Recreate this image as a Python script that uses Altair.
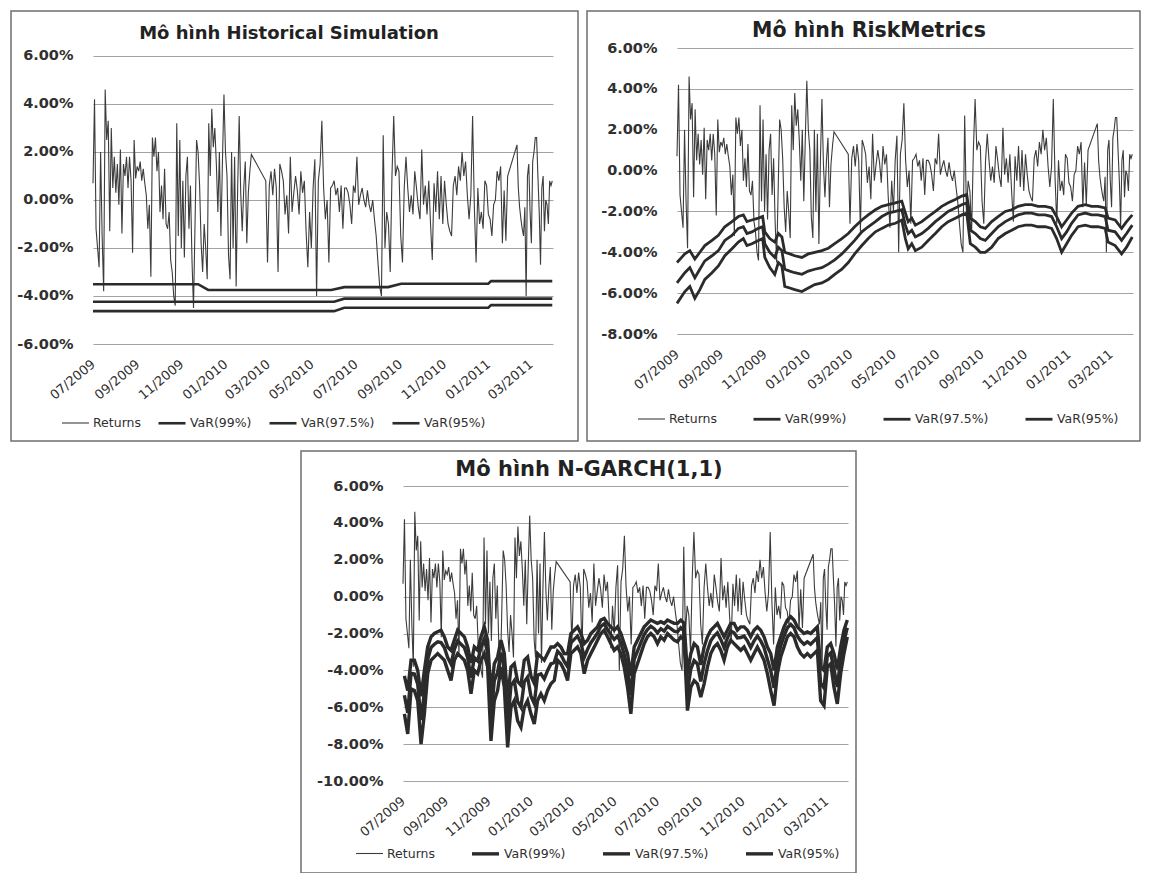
import altair as alt
import pandas as pd

FONT = "DejaVu Sans"
INK = "#2b2b2b"
TEXT = "#303030"
GRID = "#a3a3a3"
BOX = "#6e6e6e"

START = "2009-07-01"
END = "2011-04-01"
SERIES = ["Returns", "VaR(99%)", "VaR(97.5%)", "VaR(95%)"]
SERIES_COLORS = ["#3c3c3c", INK, INK, INK]
TICK_MONTHS = [(2009, 7), (2009, 9), (2009, 11), (2010, 1), (2010, 3), (2010, 5),
               (2010, 7), (2010, 9), (2010, 11), (2011, 1), (2011, 3)]

# ---- daily returns (%), in three trading stretches ----
RET_A_SPAN = ("2009-07-01", "2010-02-06")
RET_A = [0.7, 4.2, -1.2, -2.0, -2.8, 2.0, -1.5, -3.8, 4.6, 2.5,
         3.3, -1.3, 3.0, 0.5, 1.8, 0.3, 1.5, -0.2, 2.1, -1.4,
         1.5, 1.0, 1.8, 0.5, 1.8, 0.8, -2.2, 2.5, 0.9, 1.4,
         1.2, 1.6, 0.8, 1.3, 0.7, 0.2, -1.2, -0.2, -3.2, 2.6,
         1.8, 2.6, 1.2, 2.0, -0.5, 0.6, -0.8, 1.3, -1.0, -1.2,
         -0.5, -2.5, -3.0, -4.0, -4.4, 3.2, -1.5, 2.5, -2.0, 0.8,
         -2.4, 1.0, 1.8, -1.2, 0.6, -2.5, -4.5, -1.0, 2.5, 2.0,
         0.6, -1.8, -3.0, -1.0, -2.0, -3.3, 3.2, 1.0, 3.8, 2.2,
         3.0, 1.5, -0.5, 2.0, -1.5, 1.6, 4.4, 2.0, 1.0, -2.3,
         -3.3, 2.0, -2.0, 1.8, -3.6, 0.5, 3.5, 0.3, -1.3, 0.5,
         1.6, -1.8, 0.3, 1.2, 1.9]
RET_B_SPAN = ("2010-02-26", "2011-01-28")
RET_B = [0.8, -2.6, 0.6, 1.2, 0.2, 1.3, 0.5, -3.0, 1.5, 1.2,
         0.8, -0.6, 0.2, -1.4, 1.8, -0.5, 0.3, 1.0, 0.4, -0.6,
         1.2, 0.3, 0.8, -1.3, -2.8, -0.5, -2.0, 0.5, 1.7, -4.0,
         0.8, 1.5, 3.3, 0.5, -0.8, 0.0, -2.6, 0.5, 0.6, 0.8,
         0.2, 0.5, -0.5, 0.6, -1.2, 0.5, 0.5, 0.3, -0.2, -1.0,
         0.6, 0.3, 1.8, -0.2, 0.2, 0.5, 0.0, -0.3, 0.4, -0.2,
         -0.5, 0.0, -0.8, -1.5, -2.6, -3.6, -4.0, 2.7, -2.0, -0.5,
         -1.0, -3.0, 1.0, 3.5, 1.0, 1.4, 1.2, -1.5, -2.6, 0.5,
         1.8, 0.5, -0.5, 0.2, -0.6, 1.2, 0.5, -0.3, -0.8, 2.1,
         -0.2, 0.6, -0.6, 0.8, -1.0, -2.5, 0.7, -0.5, 1.2, -0.8,
         1.0, -1.0, 0.8, -0.2, -1.0, -1.3, -1.5, 0.6, 1.0, 0.2,
         1.4, 0.8, 2.0, 1.0, 1.6, 0.2, -0.8, 0.2, 3.5, -0.3,
         -2.6, 0.5, -1.0, -0.5, -1.2, 0.8, 0.6, -0.6, -0.8, -1.5,
         -0.2, 0.0, 1.2, 0.8, 1.4, -1.8, 0.4, -1.7, 1.0]
RET_C_SPAN = ("2011-02-10", "2011-03-31")
RET_C = [2.3, 0.5, -0.3, -0.8, -1.2, -1.5, -0.3, -4.0, 1.0, 1.5,
         -0.5, -1.8, 1.6, 2.0, 2.6, 2.6, 1.0, -0.5, -2.7, 0.5,
         1.0, -1.3, 0.0, -0.2, -1.0, 0.8, 0.6, 0.8]

# ---- Historical Simulation VaR (%), break points ----
HS_DATES_99 = ["2009-07-01", "2010-06-01", "2010-06-15", "2011-01-01", "2011-01-05", "2011-03-31"]
HS_99 = [-4.63, -4.63, -4.49, -4.49, -4.38, -4.38]
HS_DATES_975 = ["2009-07-01", "2010-06-01", "2010-06-15", "2011-03-31"]
HS_975 = [-4.24, -4.24, -4.11, -4.11]
HS_DATES_95 = ["2009-07-01", "2009-11-24", "2009-12-08", "2010-05-28", "2010-06-15",
               "2010-08-15", "2010-09-02", "2011-01-01", "2011-01-05", "2011-03-31"]
HS_95 = [-3.51, -3.51, -3.75, -3.75, -3.63, -3.63, -3.49, -3.49, -3.38, -3.38]

# ---- RiskMetrics VaR (%), day offsets from 2009-07-01 ----
RM_DAY = [0, 11, 18, 25, 32, 39, 49, 58, 67, 77,
          86, 93, 98, 105, 114, 120, 123, 130, 137, 142,
          147, 151, 158, 165, 175, 184, 193, 203, 212, 221,
          231, 240, 249, 259, 268, 278, 287, 296, 306, 315,
          320, 324, 329, 334, 343, 352, 362, 371, 380, 390,
          399, 406, 411, 418, 425, 432, 441, 450, 460, 469,
          478, 488, 497, 506, 516, 525, 532, 539, 546, 553,
          562, 572, 581, 590, 600, 604, 614, 623, 630, 638]
RM_99 = [-6.50, -5.92, -5.67, -6.25, -5.83, -5.33, -5.00, -4.67, -4.17, -3.83,
         -3.50, -3.33, -3.67, -3.58, -3.42, -3.33, -4.25, -4.75, -5.08, -4.50,
         -4.67, -5.67, -5.75, -5.83, -5.92, -5.75, -5.58, -5.50, -5.33, -5.08,
         -4.83, -4.50, -4.08, -3.67, -3.33, -3.00, -2.83, -2.67, -2.58, -2.42,
         -3.33, -3.83, -3.58, -3.92, -3.75, -3.42, -3.08, -2.75, -2.50, -2.33,
         -2.17, -2.08, -3.58, -3.75, -4.00, -4.00, -3.75, -3.33, -3.08, -2.92,
         -2.75, -2.67, -2.67, -2.75, -2.75, -2.83, -3.33, -4.00, -3.58, -3.17,
         -2.75, -2.67, -2.75, -2.75, -2.83, -3.50, -3.67, -4.08, -3.75, -3.25]
RM_975 = [-5.50, -5.00, -4.75, -5.25, -4.83, -4.42, -4.17, -3.92, -3.42, -3.17,
          -2.83, -2.75, -3.08, -3.00, -2.83, -2.75, -3.58, -4.00, -4.25, -3.75,
          -3.92, -4.83, -4.92, -5.00, -5.08, -4.92, -4.83, -4.75, -4.58, -4.37,
          -4.08, -3.75, -3.42, -3.00, -2.75, -2.50, -2.25, -2.08, -2.00, -1.92,
          -2.67, -3.08, -2.92, -3.25, -3.08, -2.83, -2.50, -2.25, -2.00, -1.83,
          -1.67, -1.58, -2.92, -3.08, -3.33, -3.42, -3.08, -2.75, -2.50, -2.33,
          -2.17, -2.08, -2.08, -2.17, -2.17, -2.25, -2.75, -3.33, -3.00, -2.58,
          -2.17, -2.08, -2.17, -2.17, -2.25, -2.92, -3.00, -3.42, -3.08, -2.67]
RM_95 = [-4.50, -4.08, -3.92, -4.33, -4.00, -3.67, -3.42, -3.17, -2.75, -2.50,
         -2.25, -2.17, -2.50, -2.42, -2.33, -2.25, -3.00, -3.33, -3.50, -3.08,
         -3.25, -4.00, -4.08, -4.17, -4.25, -4.08, -4.00, -3.92, -3.80, -3.58,
         -3.33, -3.08, -2.75, -2.42, -2.17, -1.92, -1.75, -1.67, -1.58, -1.50,
         -2.08, -2.50, -2.33, -2.67, -2.50, -2.25, -2.00, -1.75, -1.58, -1.42,
         -1.25, -1.17, -2.33, -2.50, -2.75, -2.83, -2.50, -2.25, -2.00, -1.92,
         -1.75, -1.67, -1.67, -1.75, -1.75, -1.83, -2.25, -2.75, -2.42, -2.08,
         -1.75, -1.67, -1.75, -1.75, -1.83, -2.33, -2.42, -2.83, -2.50, -2.17]

# ---- N-GARCH(1,1) VaR (%), evenly spaced through the sample ----
G_SPAN = ("2009-07-03", "2011-03-31")
G_99 = [-6.36, -7.45, -5.00, -5.09, -5.64, -8.00, -6.36, -4.18, -3.45, -3.27,
        -3.09, -3.27, -3.45, -4.00, -4.55, -3.45, -3.09, -3.27, -3.45, -4.00,
        -5.27, -4.00, -4.18, -3.45, -3.09, -3.82, -7.82, -5.64, -5.09, -3.82,
        -4.91, -8.18, -6.00, -5.64, -6.73, -7.09, -6.00, -5.64, -6.36, -6.91,
        -5.64, -5.27, -5.64, -5.09, -4.73, -4.55, -3.45, -3.64, -4.00, -4.55,
        -3.09, -2.91, -2.73, -3.09, -4.18, -3.45, -3.09, -2.73, -2.36, -2.00,
        -1.82, -2.18, -2.55, -2.91, -2.73, -3.09, -3.82, -4.91, -6.36, -4.18,
        -3.64, -3.09, -2.55, -2.18, -2.00, -2.18, -2.55, -2.18, -2.36, -2.00,
        -2.18, -2.36, -2.45, -2.18, -2.36, -6.18, -4.91, -4.55, -4.73, -5.45,
        -4.73, -3.82, -3.09, -2.73, -2.55, -2.91, -3.45, -2.73, -2.36, -2.55,
        -2.73, -2.91, -2.73, -3.09, -3.45, -3.09, -2.73, -3.09, -3.45, -4.18,
        -5.09, -5.91, -4.18, -3.27, -2.73, -2.18, -2.00, -2.18, -2.73, -3.09,
        -3.27, -3.09, -3.27, -3.09, -2.91, -5.64, -5.91, -3.82, -3.64, -4.91,
        -5.82, -4.18, -3.09, -2.18]
G_975 = [-5.35, -6.30, -4.16, -4.20, -4.75, -6.70, -5.20, -3.40, -2.76, -2.58,
         -2.45, -2.49, -2.76, -3.31, -3.66, -2.86, -2.40, -2.58, -2.76, -3.31,
         -4.40, -3.31, -3.49, -2.76, -2.31, -3.03, -6.60, -4.56, -4.11, -3.03,
         -3.93, -6.90, -4.82, -4.56, -5.70, -6.00, -4.62, -4.36, -5.40, -5.80,
         -4.26, -4.19, -4.46, -4.01, -3.65, -3.57, -2.96, -3.15, -3.51, -3.80,
         -2.50, -2.32, -2.14, -2.50, -3.30, -2.86, -2.50, -2.24, -1.97, -1.61,
         -1.47, -1.79, -2.06, -2.32, -2.14, -2.50, -3.13, -3.93, -5.35, -3.40,
         -2.95, -2.50, -2.06, -1.79, -1.61, -1.74, -1.96, -1.74, -1.87, -1.61,
         -1.74, -1.87, -1.91, -1.69, -1.87, -5.20, -3.93, -3.47, -3.65, -4.60,
         -3.65, -2.93, -2.40, -2.14, -1.96, -2.32, -2.76, -2.24, -1.87, -1.96,
         -2.24, -2.22, -2.14, -2.40, -2.76, -2.40, -2.14, -2.40, -2.76, -3.40,
         -4.01, -4.95, -3.40, -2.68, -2.14, -1.69, -1.51, -1.69, -2.14, -2.40,
         -2.58, -2.45, -2.58, -2.40, -2.22, -4.70, -4.95, -3.23, -3.05, -3.93,
         -4.90, -3.40, -2.40, -1.69]
G_95 = [-4.30, -5.10, -3.45, -3.45, -4.00, -5.40, -4.00, -2.73, -2.18, -2.00,
        -1.91, -1.82, -2.18, -2.73, -2.91, -2.36, -1.82, -2.00, -2.18, -2.73,
        -3.60, -2.73, -2.91, -2.18, -1.64, -2.36, -5.30, -3.64, -3.27, -2.36,
        -3.09, -5.60, -3.82, -3.64, -4.60, -4.80, -3.45, -3.27, -4.30, -4.70,
        -3.09, -3.27, -3.45, -3.09, -2.73, -2.73, -2.55, -2.73, -3.09, -3.10,
        -2.00, -1.82, -1.64, -2.00, -2.55, -2.36, -2.00, -1.82, -1.64, -1.27,
        -1.18, -1.45, -1.64, -1.82, -1.64, -2.00, -2.55, -3.09, -4.30, -2.73,
        -2.36, -2.00, -1.64, -1.45, -1.27, -1.36, -1.45, -1.36, -1.45, -1.27,
        -1.36, -1.45, -1.45, -1.27, -1.45, -4.20, -3.09, -2.55, -2.73, -3.70,
        -2.73, -2.18, -1.82, -1.64, -1.45, -1.82, -2.18, -1.82, -1.45, -1.45,
        -1.82, -1.64, -1.64, -1.82, -2.18, -1.82, -1.64, -1.82, -2.18, -2.73,
        -3.09, -4.00, -2.73, -2.18, -1.64, -1.27, -1.09, -1.27, -1.64, -1.82,
        -2.00, -1.91, -2.00, -1.82, -1.64, -3.80, -4.00, -2.73, -2.55, -3.09,
        -3.95, -2.73, -1.82, -1.27]


# ------------------------------------------------------------------ frames
def seg(vals, span):
    return pd.DataFrame({"date": pd.date_range(span[0], span[1], periods=len(vals)), "value": vals})


RET = pd.concat([seg(RET_A, RET_A_SPAN), seg(RET_B, RET_B_SPAN), seg(RET_C, RET_C_SPAN)],
                ignore_index=True)
RET["series"] = "Returns"


def var_frame(parts):
    frames = []
    for name, dates, vals in parts:
        frames.append(pd.DataFrame({"date": pd.to_datetime(dates), "value": vals, "series": name}))
    return pd.concat(frames, ignore_index=True)


HS = var_frame([("VaR(99%)", HS_DATES_99, HS_99),
                ("VaR(97.5%)", HS_DATES_975, HS_975),
                ("VaR(95%)", HS_DATES_95, HS_95)])
rm_dates = pd.Timestamp(START) + pd.to_timedelta(RM_DAY, unit="D")
RM = var_frame([("VaR(99%)", rm_dates, RM_99),
                ("VaR(97.5%)", rm_dates, RM_975),
                ("VaR(95%)", rm_dates, RM_95)])
g_dates = pd.date_range(G_SPAN[0], G_SPAN[1], periods=len(G_99))
GA = var_frame([("VaR(99%)", g_dates, G_99),
                ("VaR(97.5%)", g_dates, G_975),
                ("VaR(95%)", g_dates, G_95)])

ONE = pd.DataFrame({"k": [0]})


def dt(s):
    t = pd.Timestamp(s)
    return alt.DateTime(year=t.year, month=t.month, date=t.day)


def panel(title, tsize, tpos, w, h, ylo, yhi, ytop, box, leg, vdf, legpad, vwidth):
    xenc = alt.X("date:T", title=None,
                 scale=alt.Scale(domain=[dt(START), dt(END)]),
                 axis=alt.Axis(values=[alt.DateTime(year=y, month=m, date=1) for y, m in TICK_MONTHS],
                               format="%m/%Y", labelAngle=-40, labelAlign="right",
                               labelBaseline="middle", labelPadding=18, grid=False,
                               domain=False, ticks=False, tickSize=0, labelFont=FONT,
                               labelFontSize=13, labelColor=TEXT, labelOverlap=False,
                               labelFlush=False))
    yenc = alt.Y("value:Q", title=None,
                 scale=alt.Scale(domain=[ylo, ytop], nice=False, zero=False),
                 axis=alt.Axis(values=list(range(ylo, yhi + 1, 2)),
                               labelExpr="(datum.value < 0 ? '-' : '') + format(abs(datum.value), '.2f') + '%'",
                               grid=True, gridColor=GRID, gridWidth=1, domain=False,
                               ticks=False, tickSize=0, labelPadding=20, labelFont=FONT,
                               labelFontSize=14.5, labelFontWeight="bold", labelColor=TEXT))
    lg = alt.Legend(orient="none", legendX=leg[0], legendY=leg[1], direction="horizontal",
                    title=None, symbolType="stroke", symbolSize=729, labelFont=FONT,
                    labelFontSize=12.5, labelColor=TEXT, columnPadding=legpad, labelOffset=3)
    cenc = alt.Color("series:N", scale=alt.Scale(domain=SERIES, range=SERIES_COLORS), legend=lg)
    wenc = alt.StrokeWidth("series:N",
                           scale=alt.Scale(type="ordinal", domain=SERIES,
                                           range=[1.1, vwidth, vwidth, vwidth]),
                           legend=lg)

    frame = alt.Chart(ONE).mark_rect(fillOpacity=0, stroke=BOX, strokeWidth=1.5).encode(
        x=alt.value(box[0]), x2=alt.value(box[1]), y=alt.value(box[2]), y2=alt.value(box[3]))
    ret = alt.Chart(RET).mark_line().encode(x=xenc, y=yenc, color=cenc, strokeWidth=wenc)
    var = alt.Chart(vdf).mark_line().encode(x=xenc, y=yenc, color=cenc, strokeWidth=wenc)
    ttl = alt.Chart(ONE).mark_text(text=title, font=FONT, fontSize=tsize, fontWeight="bold",
                                   color="#222222", align="center", baseline="middle").encode(
        x=alt.value(tpos[0]), y=alt.value(tpos[1]))
    return alt.layer(frame, ret, var, ttl).properties(width=w, height=h)


p1 = panel("Mô hình Historical Simulation", 18, (196, -14), 460, 296, -6, 6, 6.333,
           (-82, 485, -37, 393), (-32, 360), HS, 12, 2.6)
p2 = panel("Mô hình RiskMetrics", 20.5, (192, -17), 456, 286, -8, 6, 6,
           (-90, 463, -37, 393), (-40, 356), RM, 30, 2.8)
p3 = panel("Mô hình N-GARCH(1,1)", 21, (186, -16), 445, 295, -10, 6, 6,
           (-102, 453, -35, 387), (-48, 352), GA, 30, 3.4)

# empty cell that pushes the third panel to the centre of the row below
gap = alt.Chart(ONE).mark_rect(fillOpacity=0, strokeOpacity=0).encode(
    x=alt.value(0), x2=alt.value(1), y=alt.value(0), y2=alt.value(1)).properties(width=207, height=1)

RES = dict(color="independent", strokeWidth="independent")
top = alt.hconcat(p1, p2, spacing=7).resolve_scale(**RES).resolve_legend(**RES)
bottom = alt.hconcat(gap, p3, spacing=0).resolve_scale(**RES).resolve_legend(**RES)
chart = alt.vconcat(top, bottom, spacing=8).resolve_scale(**RES).resolve_legend(**RES).properties(
    padding={"left": 2, "top": 2, "right": 2, "bottom": 2}, background="white"
).configure_view(stroke=None)

chart.save("out.html", embed_options={"renderer": "svg", "actions": False})
